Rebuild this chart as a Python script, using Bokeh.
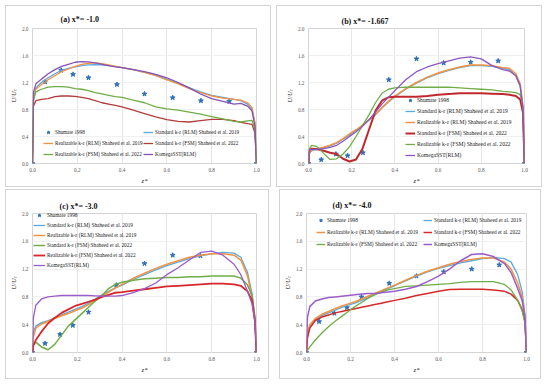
from bokeh.plotting import figure
from bokeh.models import Range1d, FixedTicker, NumeralTickFormatter, Legend, LegendItem
from bokeh.layouts import row, column
from bokeh.embed import file_html
from bokeh.resources import INLINE

# ---------------- data ----------------
Z = [0, 0.004, 0.015, 0.04, 0.07, 0.1, 0.13, 0.16, 0.19, 0.22, 0.25, 0.28, 0.31, 0.34, 0.37,
     0.4, 0.45, 0.5, 0.55, 0.6, 0.65, 0.7, 0.75, 0.8, 0.85, 0.9, 0.93, 0.96, 0.98, 0.993, 1.0]

x_ticks = [0.0, 0.2, 0.4, 0.6, 0.8, 1.0]
y_ticks = [0.0, 0.4, 0.8, 1.2, 1.6, 2.0]

LBL_SH = "Shumate 1998"
LBL_STD_RLM = "Standard k-ε (RLM) Shaheed et al. 2019"
LBL_REAL_RLM = "Realizable k-ε (RLM) Shaheed et al. 2019"
LBL_STD_FSM = "Standard k-ε (FSM) Shaheed et al. 2022"
LBL_REAL_FSM = "Realizable k-ε (FSM) Shaheed et al. 2022"
LBL_KW = "KomegaSST(RLM)"

# panel (a) x* = -1.0
a_sh_z = [0, 0.056, 0.128, 0.181, 0.25, 0.377, 0.5, 0.626, 0.752, 0.878, 1.0]
a_sh_u = [0, 1.21, 1.38, 1.32, 1.27, 1.17, 1.03, 0.975, 0.93, 0.92, 0]
a_std_rlm = [0, 0.95, 1.12, 1.2, 1.27, 1.33, 1.38, 1.41, 1.43, 1.45, 1.46, 1.465, 1.46, 1.45, 1.44,
             1.42, 1.39, 1.35, 1.31, 1.25, 1.19, 1.12, 1.06, 1.01, 0.98, 0.95, 0.93, 0.88, 0.8, 0.6, 0]
a_real_rlm = [0, 0.9, 1.1, 1.17, 1.24, 1.3, 1.36, 1.4, 1.44, 1.47, 1.485, 1.49, 1.48, 1.46, 1.44,
              1.42, 1.39, 1.35, 1.3, 1.24, 1.18, 1.11, 1.05, 1.0, 0.97, 0.95, 0.94, 0.9, 0.83, 0.6, 0]
a_std_fsm = [0, 0.85, 0.93, 0.95, 0.96, 0.99, 1.0, 1.0, 0.995, 0.98, 0.96, 0.93, 0.9, 0.88, 0.86,
             0.84, 0.79, 0.74, 0.69, 0.65, 0.625, 0.615, 0.635, 0.655, 0.655, 0.635, 0.61, 0.59, 0.58, 0.45, 0]
a_real_fsm = [0, 0.95, 1.06, 1.1, 1.13, 1.14, 1.14, 1.13, 1.11, 1.1, 1.08, 1.05, 1.03, 1.01, 0.99,
              0.98, 0.94, 0.9, 0.84, 0.81, 0.79, 0.76, 0.73, 0.695, 0.66, 0.625, 0.615, 0.63, 0.64, 0.5, 0]
a_kw = [0, 1.05, 1.18, 1.25, 1.33, 1.39, 1.44, 1.47, 1.5, 1.51, 1.505, 1.49, 1.47, 1.45, 1.43,
        1.42, 1.39, 1.36, 1.32, 1.27, 1.2, 1.12, 1.03, 0.96, 0.92, 0.88, 0.89, 0.85, 0.78, 0.55, 0]

# panel (b) x* = -1.667
b_sh_z = [0, 0.059, 0.127, 0.181, 0.252, 0.372, 0.5, 0.626, 0.751, 0.878, 1.0]
b_sh_u = [0, 0.056, 0.14, 0.116, 0.16, 1.24, 1.55, 1.49, 1.50, 1.52, 0]
b_std_rlm = [0, 0.15, 0.19, 0.21, 0.23, 0.26, 0.3, 0.36, 0.42, 0.49, 0.56, 0.64, 0.72, 0.82, 0.91,
             0.99, 1.1, 1.19, 1.27, 1.33, 1.38, 1.42, 1.45, 1.45, 1.44, 1.41, 1.39, 1.3, 1.15, 0.8, 0]
b_real_rlm = [0, 0.16, 0.2, 0.22, 0.24, 0.27, 0.31, 0.37, 0.44, 0.5, 0.57, 0.65, 0.73, 0.83, 0.92,
              1.0, 1.11, 1.2, 1.28, 1.34, 1.39, 1.43, 1.46, 1.46, 1.45, 1.42, 1.41, 1.33, 1.18, 0.85, 0]
b_std_fsm = [0, 0.2, 0.22, 0.21, 0.19, 0.16, 0.14, 0.07, 0.03, 0.06, 0.22, 0.5, 0.78, 0.93, 0.98,
             0.99, 0.99, 0.99, 1.0, 1.02, 1.03, 1.04, 1.04, 1.04, 1.035, 1.03, 1.02, 1.0, 0.95, 0.75, 0]
b_real_fsm = [0, 0.22, 0.27, 0.25, 0.15, 0.06, 0.07, 0.14, 0.25, 0.4, 0.56, 0.72, 0.9, 1.04, 1.1,
              1.12, 1.13, 1.13, 1.13, 1.13, 1.13, 1.12, 1.11, 1.1, 1.09, 1.07, 1.06, 1.05, 1.02, 0.85, 0]
b_kw = [0, 0.2, 0.21, 0.21, 0.22, 0.24, 0.27, 0.33, 0.4, 0.47, 0.55, 0.65, 0.76, 0.88, 0.98,
        1.08, 1.24, 1.36, 1.43, 1.48, 1.52, 1.56, 1.58, 1.55, 1.45, 1.39, 1.37, 1.3, 1.15, 0.8, 0]

# panel (c) x* = -3.0
c_sh_z = [0, 0.056, 0.123, 0.18, 0.25, 0.374, 0.5, 0.626, 0.75, 1.0]
c_sh_u = [0, 0.13, 0.26, 0.39, 0.58, 0.97, 1.28, 1.40, 1.39, 0]
c_std_rlm = [0, 0.3, 0.38, 0.43, 0.46, 0.5, 0.54, 0.58, 0.62, 0.66, 0.71, 0.77, 0.83, 0.88, 0.93,
             0.97, 1.05, 1.12, 1.19, 1.25, 1.3, 1.35, 1.39, 1.42, 1.44, 1.43, 1.37, 1.15, 0.85, 0.5, 0]
c_real_rlm = [0, 0.22, 0.35, 0.41, 0.45, 0.49, 0.53, 0.56, 0.6, 0.64, 0.69, 0.75, 0.81, 0.87, 0.93,
              0.98, 1.07, 1.14, 1.21, 1.27, 1.32, 1.37, 1.4, 1.42, 1.42, 1.4, 1.33, 1.1, 0.8, 0.45, 0]
c_std_fsm = [0, 0.12, 0.15, 0.08, 0.04, 0.12, 0.25, 0.38, 0.47, 0.56, 0.65, 0.74, 0.82, 0.92, 0.98,
             1.01, 1.04, 1.06, 1.07, 1.08, 1.08, 1.09, 1.09, 1.1, 1.1, 1.1, 1.07, 0.97, 0.82, 0.5, 0]
c_real_fsm = [0, 0.1, 0.18, 0.3, 0.42, 0.5, 0.57, 0.62, 0.67, 0.7, 0.73, 0.76, 0.8, 0.83, 0.86,
              0.87, 0.89, 0.91, 0.93, 0.95, 0.96, 0.97, 0.98, 0.99, 0.99, 0.98, 0.96, 0.88, 0.75, 0.45, 0]
c_kw = [0, 0.5, 0.68, 0.77, 0.8, 0.81, 0.82, 0.82, 0.82, 0.82, 0.82, 0.815, 0.81, 0.81, 0.81,
        0.82, 0.86, 0.92, 1.0, 1.12, 1.22, 1.33, 1.44, 1.46, 1.4, 1.27, 1.12, 0.88, 0.7, 0.45, 0]

# panel (d) x* = -4.0
d_sh_z = [0, 0.057, 0.127, 0.184, 0.25, 0.376, 0.5, 0.624, 0.751, 0.876, 1.0]
d_sh_u = [0, 0.445, 0.565, 0.646, 0.80, 0.995, 1.10, 1.16, 1.20, 1.26, 0]
d_std_rlm = [0, 0.25, 0.38, 0.47, 0.53, 0.57, 0.61, 0.65, 0.68, 0.71, 0.75, 0.79, 0.84, 0.88, 0.92,
             0.96, 1.03, 1.1, 1.16, 1.21, 1.25, 1.29, 1.32, 1.35, 1.37, 1.35, 1.3, 1.12, 0.88, 0.55, 0]
d_real_rlm = [0, 0.28, 0.4, 0.49, 0.55, 0.59, 0.63, 0.67, 0.7, 0.73, 0.77, 0.81, 0.85, 0.89, 0.93,
              0.97, 1.04, 1.11, 1.17, 1.22, 1.27, 1.31, 1.34, 1.36, 1.36, 1.3, 1.2, 1.0, 0.8, 0.5, 0]
d_std_fsm = [0, 0.2, 0.35, 0.46, 0.51, 0.54, 0.57, 0.59, 0.61, 0.63, 0.65, 0.67, 0.69, 0.71, 0.73,
             0.75, 0.78, 0.82, 0.85, 0.88, 0.905, 0.91, 0.91, 0.91, 0.9, 0.88, 0.84, 0.75, 0.62, 0.45, 0]
d_real_fsm = [0, 0.03, 0.08, 0.18, 0.28, 0.37, 0.45, 0.52, 0.59, 0.66, 0.72, 0.78, 0.83, 0.87, 0.9,
              0.92, 0.95, 0.96, 0.97, 0.98, 0.99, 1.01, 1.02, 1.02, 1.02, 0.98, 0.9, 0.75, 0.6, 0.42, 0]
d_kw = [0, 0.5, 0.66, 0.74, 0.77, 0.79, 0.8, 0.81, 0.82, 0.83, 0.84, 0.85, 0.85, 0.86, 0.87,
        0.88, 0.91, 0.95, 1.02, 1.1, 1.2, 1.32, 1.41, 1.42, 1.38, 1.28, 1.15, 0.92, 0.75, 0.5, 0]

# ---------------- style ----------------
FONT = "Liberation Serif"
C_BLUE = "#5aa8df"
C_ORANGE = "#f39241"
C_GREEN = "#70ad47"
C_PURPLE = "#8552b5"
C_MARK = "#2f70b6"
GRID = "#e6e6e6"
FRAME = "#d4d4d4"
TICK_COL = "#595959"


def make_panel(title, width, height, borders, title_offset, title_standoff,
               sh_z, sh_u, series, legends, leg_font, leg_spacing=3):
    p = figure(width=width, height=height, output_backend="svg", toolbar_location=None,
               x_range=Range1d(0, 1), y_range=Range1d(0, 2),
               min_border_left=borders[0], min_border_right=borders[1],
               min_border_top=borders[2], min_border_bottom=borders[3],
               background_fill_color="white", border_fill_color="white")
    p.styles = {"border": "1px solid #d3d3d3"}
    p.outline_line_color = FRAME
    p.outline_line_width = 1

    p.title.text = title
    p.title.text_font = FONT
    p.title.text_font_style = "bold"
    p.title.text_font_size = "8px"
    p.title.text_color = "#111111"
    p.title.align = "left"
    p.title.offset = title_offset
    p.title.standoff = title_standoff

    for ax in (p.xaxis[0], p.yaxis[0]):
        ax.axis_line_color = None
        ax.major_tick_line_color = None
        ax.minor_tick_line_color = None
        ax.major_tick_out = 0
        ax.major_tick_in = 0
        ax.minor_tick_out = 0
        ax.minor_tick_in = 0
        ax.major_label_text_font = FONT
        ax.major_label_text_font_size = "5.3px"
        ax.major_label_text_color = TICK_COL
        ax.formatter = NumeralTickFormatter(format="0.0")
        ax.axis_label_text_font = FONT
        ax.axis_label_text_font_style = "italic"
        ax.axis_label_text_font_size = "6.5px"
        ax.axis_label_text_color = "#222222"
        ax.major_label_standoff = 4
        ax.axis_label_standoff = 2
    p.xaxis[0].ticker = FixedTicker(ticks=x_ticks)
    p.yaxis[0].ticker = FixedTicker(ticks=y_ticks)
    p.xaxis[0].axis_label = "z*"
    p.yaxis[0].axis_label = "U/Uₜ"

    p.xgrid.grid_line_color = GRID
    p.ygrid.grid_line_color = "#f0f0f0"
    p.xgrid.ticker = FixedTicker(ticks=x_ticks)
    p.ygrid.ticker = FixedTicker(ticks=y_ticks)

    rends = {}
    rends[LBL_SH] = p.scatter(sh_z, sh_u, marker="star", size=5,
                              fill_color=C_MARK, line_color=C_MARK)
    for label, vals, color, lw in series:
        rends[label] = p.line(Z, vals, line_color=color, line_width=lw)

    for labels, loc, gw in legends:
        leg = Legend(items=[LegendItem(label=l, renderers=[rends[l]]) for l in labels],
                     location=loc)
        leg.border_line_color = None
        leg.background_fill_alpha = 0
        leg.padding = 0
        leg.margin = 0
        leg.spacing = leg_spacing
        leg.glyph_width = gw
        leg.glyph_height = 8
        leg.label_height = 8
        leg.label_standoff = 2
        leg.label_text_font = FONT
        leg.label_text_font_size = leg_font
        leg.label_text_color = "#222222"
        p.add_layout(leg)
    return p


pa = make_panel("(a) x*= -1.0", 266, 182, (26, 16, 22, 25), 28, 9, a_sh_z, a_sh_u,
                [(LBL_STD_RLM, a_std_rlm, C_BLUE, 1.3),
                 (LBL_REAL_RLM, a_real_rlm, C_ORANGE, 1.3),
                 (LBL_STD_FSM, a_std_fsm, "#b23c3a", 1.3),
                 (LBL_REAL_FSM, a_real_fsm, C_GREEN, 1.3),
                 (LBL_KW, a_kw, C_PURPLE, 1.3)],
                [([LBL_SH, LBL_REAL_RLM, LBL_REAL_FSM], (11, 5), 10),
                 ([LBL_STD_RLM, LBL_STD_FSM, LBL_KW], (111, 5), 10)],
                "5.2px")

pb = make_panel("(b) x*= -1.667", 266, 182, (31, 19, 17, 21), 33, 6, b_sh_z, b_sh_u,
                [(LBL_STD_RLM, b_std_rlm, C_BLUE, 1.3),
                 (LBL_REAL_RLM, b_real_rlm, C_ORANGE, 1.5),
                 (LBL_STD_FSM, b_std_fsm, "#c0282d", 2.0),
                 (LBL_REAL_FSM, b_real_fsm, C_GREEN, 1.3),
                 (LBL_KW, b_kw, "#8c55c2", 1.3)],
                [([LBL_SH, LBL_STD_RLM, LBL_REAL_RLM, LBL_STD_FSM, LBL_REAL_FSM, LBL_KW],
                  (97, 4), 10)],
                "5.6px")

pc = make_panel("(c) x*= -3.0", 264, 190, (26, 14, 20, 28), 27, 6, c_sh_z, c_sh_u,
                [(LBL_STD_RLM, c_std_rlm, C_BLUE, 1.3),
                 (LBL_REAL_RLM, c_real_rlm, C_ORANGE, 1.5),
                 (LBL_STD_FSM, c_std_fsm, C_GREEN, 1.5),
                 (LBL_REAL_FSM, c_real_fsm, "#d8262b", 1.8),
                 (LBL_KW, c_kw, "#9a5ccb", 1.3)],
                [([LBL_SH, LBL_STD_RLM, LBL_REAL_RLM, LBL_STD_FSM, LBL_REAL_FSM, LBL_KW],
                  (1, 83), 12)],
                "5.3px", leg_spacing=2)

pd_ = make_panel("(d) x*= -4.0", 262, 190, (23, 16, 23, 28), 26, 8, d_sh_z, d_sh_u,
                 [(LBL_STD_RLM, d_std_rlm, C_BLUE, 1.3),
                  (LBL_REAL_RLM, d_real_rlm, C_ORANGE, 1.5),
                  (LBL_STD_FSM, d_std_fsm, "#d42a2a", 1.5),
                  (LBL_REAL_FSM, d_real_fsm, C_GREEN, 1.3),
                  (LBL_KW, d_kw, "#9a5ccb", 1.5)],
                 [([LBL_SH, LBL_REAL_RLM, LBL_REAL_FSM], (10, 104), 9),
                  ([LBL_STD_RLM, LBL_STD_FSM, LBL_KW], (117, 104), 9)],
                 "5.4px", leg_spacing=4)

layout = column(row(pa, pb, spacing=5), row(pc, pd_, spacing=10), spacing=2,
                margin=(5, 0, 0, 5))

with open("out.html", "w") as f:
    f.write(file_html(layout, INLINE))
